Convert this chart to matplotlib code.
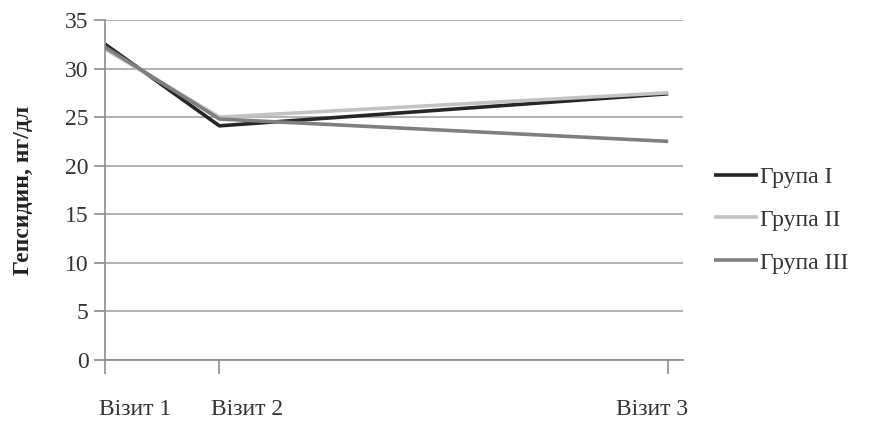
import matplotlib.pyplot as plt
from matplotlib.transforms import ScaledTranslation

plt.rcParams['font.family'] = ['Liberation Serif', 'DejaVu Serif']

visits = ["Візит 1", "Візит 2", "Візит 3"]
visit_pos = [0, 1, 4.93]

group_names = ["Група I", "Група II", "Група III"]
group1 = [32.5, 24.1, 27.4]
group2 = [32.0, 25.0, 27.5]
group3 = [32.2, 24.8, 22.5]

colors = ["#262626", "#c3c3c3", "#7f7f7f"]

fig = plt.figure(figsize=(8.69, 4.24), dpi=100)
ax = fig.add_axes([0.121, 0.151, 0.665, 0.802])

for vals, name, c in zip([group1, group2, group3], group_names, colors):
    ax.plot(visit_pos, vals, color=c, linewidth=2.6, label=name,
            solid_capstyle='butt')

ax.set_ylim(0, 35)
ax.set_xlim(0, 5.06)
ax.set_yticks(range(0, 36, 5))
ax.set_xticks(visit_pos)
ax.set_xticklabels(visits)

ax.grid(axis='y', color='#a6a6a6', linewidth=1.2)
ax.set_axisbelow(True)
for s in ['top', 'right']:
    ax.spines[s].set_visible(False)
for s in ['left', 'bottom']:
    ax.spines[s].set_color('#8c8c8c')
    ax.spines[s].set_linewidth(1.2)

ax.tick_params(axis='y', length=8, width=1.2, color='#8c8c8c',
               labelsize=17, labelcolor='#333333', pad=4)
ax.tick_params(axis='x', length=10, width=1.2, color='#8c8c8c',
               labelsize=17, labelcolor='#333333', pad=18)

# labels in the original sit a bit off their ticks
shifts = [(-6, 'left'), (-8, 'left'), (20, 'right')]
for lab, (dx, ha) in zip(ax.get_xticklabels(), shifts):
    lab.set_ha(ha)
    lab.set_transform(lab.get_transform() +
                      ScaledTranslation(dx / 100, 0, fig.dpi_scale_trans))

ax.set_ylabel("Гепсидин, нг/дл", fontsize=17, fontweight='bold',
              color='#222222')
ax.yaxis.set_label_coords(-0.124, 0.5)

fig.legend(loc='center left', bbox_to_anchor=(693 / 869, 1 - 220 / 424),
           frameon=False, fontsize=17, handlelength=1.85, handletextpad=0.1,
           labelspacing=0.9, labelcolor='#333333')

fig.savefig("out.png", dpi=100)
